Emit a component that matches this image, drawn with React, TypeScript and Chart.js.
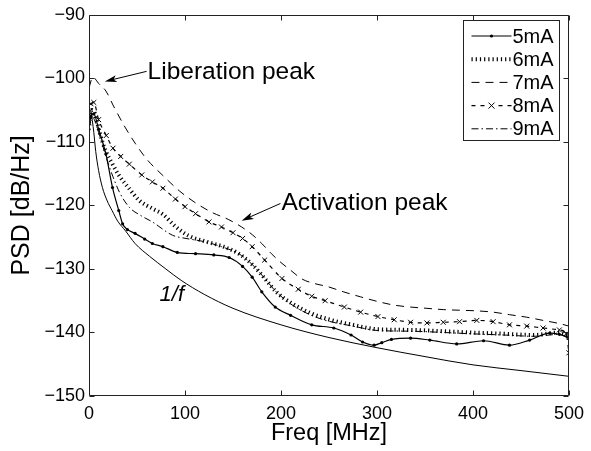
import React, { useEffect, useRef } from 'react';
import { Chart, registerables } from 'chart.js';

Chart.register(...registerables);

// ---- Data ----
const freqOneOverF = [2, 5, 7, 10, 14, 19, 24, 30, 38, 48, 63, 80, 96, 120, 150, 200, 250, 300, 350, 400, 450, 500];
const psdOneOverF = [-105, -108.5, -111.5, -114.5, -117.2, -119.3, -120.8, -122.5, -124, -126, -128, -130, -131.8, -134, -136.2, -138.8, -140.8, -142.4, -143.8, -145.1, -146, -146.9];

const freq5mA = [0, 2, 5, 10, 17.6, 24.5, 31, 35, 40, 48, 58, 66, 77, 92, 111, 130, 146, 160, 170, 180, 194, 210, 232, 255, 273, 285, 297, 305, 315, 335, 355, 383, 411, 438, 459, 480, 490, 500];
const psd5mA = [-108, -106, -105.6, -108, -111.9, -117.2, -120.8, -122.9, -123.8, -124.4, -125.3, -126, -126.5, -127.4, -127.6, -127.8, -128.2, -129.6, -131.3, -133.6, -136, -137.3, -138.8, -139.3, -140.4, -141.5, -142, -141.6, -141.1, -140.9, -141.2, -141.8, -141.3, -142, -141.2, -140.1, -140.3, -140.8];

const freq6mA = [0, 3, 6, 11, 17.6, 24.5, 30, 41, 53, 66, 77, 90, 104, 122, 140, 156, 170, 182, 195, 210, 230, 249, 275, 301, 335, 369, 397, 432, 463, 490, 500];
const psd6mA = [-107, -105, -105.5, -108.5, -111.5, -113.5, -115, -117.2, -119.3, -120.5, -121.4, -123.3, -124.8, -125.7, -126.5, -127.6, -129.3, -131.3, -133.6, -135.3, -136.9, -137.9, -138.8, -139.5, -139.6, -139.8, -140, -140.2, -140.4, -140, -140.5];

const freq7mA = [0, 4, 10, 17.6, 26, 38, 48, 60, 77, 94, 111, 128, 145, 159, 170, 180, 190, 200, 210, 222, 235, 249, 265, 283, 300, 318, 335, 352, 369, 386, 404, 421, 438, 456, 473, 490, 500];
const psd7mA = [-101.5, -99.8, -100.8, -102, -104.5, -107.8, -110.2, -112.7, -115.3, -117.7, -119.6, -121.1, -122.2, -123.4, -124.6, -126, -127.6, -129, -130.2, -131.6, -132.3, -132.8, -133.6, -134.4, -135.1, -135.7, -136, -136.2, -136.4, -136.5, -136.6, -136.8, -137.2, -137.6, -138.1, -138.6, -139];

const freq8mA = [0, 2, 5, 10, 18, 25, 33, 42, 55, 66, 77, 90, 100, 111, 125, 138, 150, 160, 170, 183, 201, 218, 232, 246, 266, 283, 301, 318, 335, 352, 369, 386, 404, 421, 438, 456, 473, 490, 497, 500];
const psd8mA = [-107, -104, -103.8, -106.5, -109, -111, -112.3, -113.5, -115.2, -116.3, -117.3, -119, -120.2, -121.3, -122.6, -123.4, -124.3, -125.2, -126.5, -128.6, -131.5, -133.2, -134.3, -135, -136, -136.8, -137.5, -138, -138.4, -138.5, -138.4, -138.3, -138.1, -138.3, -138.8, -139, -139.3, -139.6, -140.2, -143.2];

const freq9mA = [0, 3, 10, 18, 25, 32, 42, 54, 66, 87, 101, 120, 140, 156, 170, 182, 195, 210, 230, 249, 275, 301, 335, 369, 397, 432, 463, 490, 500];
const psd9mA = [-108, -106, -108.5, -112.5, -115.5, -118, -120.3, -121.6, -122.6, -124.7, -125.2, -125.7, -126.6, -127.6, -129.3, -131.3, -133.6, -135.5, -137.2, -138.2, -139, -139.7, -139.8, -140, -140.2, -140.4, -140.6, -140.3, -141];

const seriesLabels = ['5mA', '6mA', '7mA', '8mA', '9mA'];
const xTicks = [0, 100, 200, 300, 400, 500];
const yTicks = [-150, -140, -130, -120, -110, -100, -90];

// annotations: text and arrow anchors in data coordinates
const annotationTexts = ['Liberation peak', 'Activation peak'];
const annotationTextAt = [[61, -99.1], [200.4, -119.7]];
const annotationArrowFrom = [[60, -98.9], [199.4, -119.7]];
const annotationArrowTo = [[16.5, -100.5], [159, -122.4]];
const oneOverFLabel = '1/f';
const oneOverFLabelAt = [73.5, -134.1];

const FONT = "'Liberation Sans', Arial, Helvetica, sans-serif";

const toXY = (xs: number[], ys: number[]) => xs.map((x, i) => ({ x, y: ys[i] }));

const frameTicksPlugin = {
  id: 'frameTicks',
  afterDatasetsDraw(chart: any) {
    const { ctx, chartArea } = chart;
    const { left, right, top, bottom } = chartArea;
    const xs = chart.scales.x;
    const ys = chart.scales.y;
    ctx.save();
    ctx.strokeStyle = '#222';
    ctx.lineWidth = 1;
    ctx.setLineDash([]);
    const L = 5;
    const l = Math.round(left) + 0.5, r = Math.round(right) - 0.5;
    const t = Math.round(top) + 0.5, b = Math.round(bottom) - 0.5;
    ctx.beginPath();
    ctx.rect(l, t, r - l, b - t);
    ctx.stroke();
    ctx.beginPath();
    xTicks.forEach((v) => {
      const px = Math.round(xs.getPixelForValue(v)) + 0.5;
      ctx.moveTo(px, b); ctx.lineTo(px, b - L);
      ctx.moveTo(px, t); ctx.lineTo(px, t + L);
    });
    yTicks.forEach((v) => {
      const py = Math.round(ys.getPixelForValue(v)) + 0.5;
      ctx.moveTo(l, py); ctx.lineTo(l + L, py);
      ctx.moveTo(r, py); ctx.lineTo(r - L, py);
    });
    ctx.stroke();
    ctx.restore();
  },
};

function drawArrow(ctx: CanvasRenderingContext2D, x1: number, y1: number, x2: number, y2: number) {
  const a = Math.atan2(y2 - y1, x2 - x1);
  const c = Math.cos(a), s = Math.sin(a);
  ctx.beginPath();
  ctx.moveTo(x1, y1);
  ctx.lineTo(x2 - 6 * c, y2 - 6 * s);
  ctx.stroke();
  const L = 12, W = 3.5;
  ctx.beginPath();
  ctx.moveTo(x2, y2);
  ctx.lineTo(x2 - L * c - W * s, y2 - L * s + W * c);
  ctx.lineTo(x2 - L * 0.75 * c, y2 - L * 0.75 * s);
  ctx.lineTo(x2 - L * c + W * s, y2 - L * s - W * c);
  ctx.closePath();
  ctx.fill();
}

const annotationsPlugin = {
  id: 'annotationsPlugin',
  afterDatasetsDraw(chart: any) {
    const { ctx } = chart;
    const xs = chart.scales.x;
    const ys = chart.scales.y;
    ctx.save();
    ctx.fillStyle = '#000';
    ctx.strokeStyle = '#000';
    ctx.lineWidth = 1;
    ctx.setLineDash([]);
    ctx.font = `24.5px ${FONT}`;
    ctx.textBaseline = 'middle';
    ctx.textAlign = 'left';
    annotationTexts.forEach((txt, i) => {
      ctx.fillText(txt, xs.getPixelForValue(annotationTextAt[i][0]), ys.getPixelForValue(annotationTextAt[i][1]));
      drawArrow(
        ctx,
        xs.getPixelForValue(annotationArrowFrom[i][0]), ys.getPixelForValue(annotationArrowFrom[i][1]),
        xs.getPixelForValue(annotationArrowTo[i][0]), ys.getPixelForValue(annotationArrowTo[i][1])
      );
    });
    ctx.font = `italic 22px ${FONT}`;
    ctx.fillText(oneOverFLabel, xs.getPixelForValue(oneOverFLabelAt[0]), ys.getPixelForValue(oneOverFLabelAt[1]));
    ctx.restore();
  },
};

const legendPlugin = {
  id: 'matlabLegend',
  afterDatasetsDraw(chart: any) {
    const { ctx, chartArea } = chart;
    const boxW = 96, boxH = 120;
    const bx = Math.round(chartArea.right - 10 - boxW) + 0.5;
    const by = Math.round(chartArea.top + 5) + 0.5;
    ctx.save();
    ctx.fillStyle = '#fff';
    ctx.fillRect(bx, by, boxW, boxH);
    ctx.strokeStyle = '#222';
    ctx.lineWidth = 1;
    ctx.setLineDash([]);
    ctx.strokeRect(bx, by, boxW, boxH);
    const items = chart.data.datasets.filter((d: any) => seriesLabels.includes(d.label));
    items.forEach((ds: any, i: number) => {
      const cy = by + 15.5 + i * 23.2;
      const x0 = bx + 8, x1 = bx + 48, xm = (x0 + x1) / 2;
      ctx.save();
      ctx.strokeStyle = '#000';
      ctx.lineWidth = ds.borderWidth;
      ctx.setLineDash(ds.borderDash || []);
      ctx.beginPath();
      ctx.moveTo(x0, cy);
      ctx.lineTo(x1, cy);
      ctx.stroke();
      ctx.setLineDash([]);
      if (ds.pointStyle === 'crossRot' && ds.pointRadius > 0) {
        ctx.fillStyle = '#fff';
        ctx.fillRect(xm - 5, cy - 4, 10, 8);
        ctx.lineWidth = 1;
        const r = 3;
        ctx.beginPath();
        ctx.moveTo(xm - r, cy - r); ctx.lineTo(xm + r, cy + r);
        ctx.moveTo(xm - r, cy + r); ctx.lineTo(xm + r, cy - r);
        ctx.stroke();
      } else if (ds.pointRadius > 0) {
        ctx.fillStyle = '#000';
        ctx.beginPath();
        ctx.arc(xm, cy, ds.pointRadius, 0, Math.PI * 2);
        ctx.fill();
      }
      ctx.restore();
      ctx.fillStyle = '#000';
      ctx.font = `20px ${FONT}`;
      ctx.textBaseline = 'middle';
      ctx.textAlign = 'left';
      ctx.fillText(ds.label, x1 + 1, cy + 1);
    });
    ctx.restore();
  },
};

const minusFmt = (v: number) => (v < 0 ? '\u2212' + Math.abs(v) : String(v));

export default function App() {
  const canvasRef = useRef<HTMLCanvasElement | null>(null);

  useEffect(() => {
    document.body.style.margin = '0';
    const canvas = canvasRef.current;
    if (!canvas) return;
    const base = {
      borderColor: '#000',
      backgroundColor: '#000',
      fill: false,
      cubicInterpolationMode: 'monotone' as const,
      pointRadius: 0,
      pointHoverRadius: 0,
    };
    const chart = new Chart(canvas, {
      type: 'line',
      data: {
        datasets: [
          { ...base, label: '1/f', data: toXY(freqOneOverF, psdOneOverF), borderWidth: 1 },
          { ...base, label: seriesLabels[0], data: toXY(freq5mA, psd5mA), borderWidth: 1.2, pointRadius: 1.6, pointStyle: 'circle', pointBorderWidth: 0, pointBackgroundColor: '#000' },
          { ...base, label: seriesLabels[1], data: toXY(freq6mA, psd6mA), borderWidth: 4, borderDash: [1.2, 3] },
          { ...base, label: seriesLabels[2], data: toXY(freq7mA, psd7mA), borderWidth: 1, borderDash: [8, 6] },
          { ...base, label: seriesLabels[3], data: toXY(freq8mA, psd8mA), borderWidth: 1.2, borderDash: [4, 5], pointRadius: 3.5, pointStyle: 'crossRot', pointBorderWidth: 1, pointBorderColor: '#000' },
          { ...base, label: seriesLabels[4], data: toXY(freq9mA, psd9mA), borderWidth: 1, borderDash: [7, 3, 1.5, 3] },
        ],
      },
      options: {
        animation: false,
        responsive: false,
        devicePixelRatio: 1,
        events: [],
        layout: { padding: { top: 13, right: 18, left: 0, bottom: 0 } },
        plugins: {
          legend: { display: false },
          tooltip: { enabled: false },
          title: { display: false },
        },
        scales: {
          x: {
            type: 'linear',
            min: 0,
            max: 500,
            afterFit: (s: any) => { s.height = 55; },
            afterBuildTicks: (s: any) => { s.ticks = xTicks.map((v) => ({ value: v })); },
            grid: { display: false, drawTicks: false },
            border: { display: false },
            ticks: {
              color: '#000',
              padding: 7,
              maxRotation: 0,
              font: { family: FONT, size: 18 },
              callback: (v: any) => minusFmt(Number(v)),
            },
            title: {
              display: true,
              text: 'Freq [MHz]',
              color: '#000',
              font: { family: FONT, size: 23.5 },
              padding: { top: 0, bottom: 3 },
            },
          },
          y: {
            type: 'linear',
            min: -150,
            max: -90,
            afterFit: (s: any) => { s.width = 89; },
            afterBuildTicks: (s: any) => { s.ticks = yTicks.map((v) => ({ value: v })); },
            grid: { display: false, drawTicks: false },
            border: { display: false },
            ticks: {
              color: '#000',
              padding: 4,
              font: { family: FONT, size: 18 },
              callback: (v: any) => minusFmt(Number(v)),
            },
            title: {
              display: true,
              text: 'PSD [dB/Hz]',
              color: '#000',
              font: { family: FONT, size: 25 },
              padding: { top: 7, bottom: 0 },
            },
          },
        },
      },
      plugins: [frameTicksPlugin, annotationsPlugin, legendPlugin],
    });
    return () => chart.destroy();
  }, []);

  return (
    <div style={{ width: 591, height: 451, background: '#fff' }}>
      <canvas ref={canvasRef} width={591} height={451} style={{ display: 'block' }} />
    </div>
  );
}
